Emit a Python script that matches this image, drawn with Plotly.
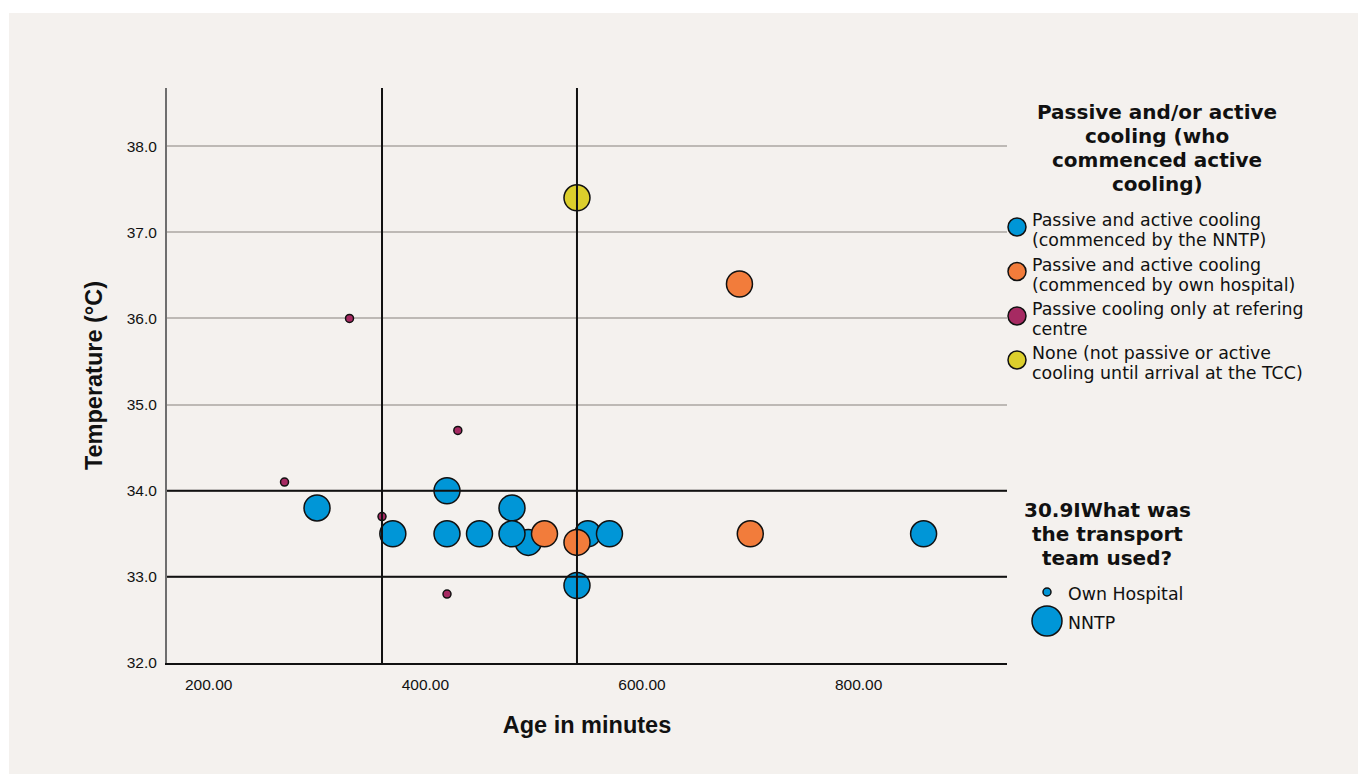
import plotly.graph_objects as go

# ---- data -------------------------------------------------------------
age_min = [300, 370, 420, 420, 450, 495, 480, 480, 540, 550, 570, 860,
           510, 540, 690, 700,
           270, 330, 360, 430, 420,
           540]
temp_c = [33.8, 33.5, 34.0, 33.5, 33.5, 33.4, 33.8, 33.5, 32.9, 33.5, 33.5, 33.5,
          33.5, 33.4, 36.4, 33.5,
          34.1, 36.0, 33.7, 34.7, 32.8,
          37.4]
cooling = ["nntp"] * 12 + ["own"] * 4 + ["passive"] * 5 + ["none"]
team = (["NNTP"] * 12 + ["NNTP"] * 4 + ["Own Hospital"] * 5 + ["NNTP"])

cooling_keys = ["nntp", "own", "passive", "none"]
cooling_labels = [
    ["Passive and active cooling", "(commenced by the NNTP)"],
    ["Passive and active cooling", "(commenced by own hospital)"],
    ["Passive cooling only at refering", "centre"],
    ["None (not passive or active", "cooling until arrival at the TCC)"],
]
cooling_colors = ["#0096D7", "#F27C3B", "#A62A62", "#DCCF2C"]

team_labels = ["Own Hospital", "NNTP"]
team_sizes = {"Own Hospital": 8, "NNTP": 26}

ref_ages = [360, 540]
ref_temps = [33.0, 34.0]

x_ticks = [200, 400, 600, 800]
y_ticks = [32, 33, 34, 35, 36, 37, 38]

legend_title_1 = ["Passive and/or active", "cooling (who", "commenced active", "cooling)"]
legend_title_2 = ["30.9IWhat was", "the transport", "team used?"]

# ---- layout geometry (pixels) ----------------------------------------
W, H = 1358, 774
L, R, T, B = 167, 1358 - 1007, 88, 774 - 663
PW, PH = W - L - R, H - T - B
BG = "#F4F1EE"
FONT = "Liberation Sans, Arial, Helvetica, sans-serif"
LEG_FONT = "DejaVu Sans, Verdana, sans-serif"


def px(x):
    return (x - L) / PW


def py(y):
    return (H - B - y) / PH


fig = go.Figure()

for key, color in zip(cooling_keys, cooling_colors):
    idx = [i for i, c in enumerate(cooling) if c == key]
    fig.add_trace(go.Scatter(
        x=[age_min[i] for i in idx],
        y=[temp_c[i] for i in idx],
        mode="markers",
        marker=dict(color=color, opacity=1,
                    size=[team_sizes[team[i]] for i in idx],
                    line=dict(color="#111111", width=1.5)),
        showlegend=False,
        hoverinfo="x+y",
    ))

shapes = []
# panel background
shapes.append(dict(type="rect", xref="paper", yref="paper",
                   x0=px(9), x1=px(W + 5), y0=py(H + 5), y1=py(13),
                   fillcolor=BG, line=dict(width=0), layer="below"))
# reference lines
for a in ref_ages:
    shapes.append(dict(type="line", xref="x", yref="paper", x0=a, x1=a, y0=0, y1=1,
                       line=dict(color="#111111", width=2)))
for t in ref_temps:
    shapes.append(dict(type="line", xref="paper", yref="y", x0=0, x1=1, y0=t, y1=t,
                       line=dict(color="#111111", width=2)))

annotations = []
# legend 1 title
for k, line in enumerate(legend_title_1):
    annotations.append(dict(text=f"<b>{line}</b>", xref="paper", yref="paper",
                            x=px(1157), y=py(112 + 24 * k), xanchor="center", yanchor="middle",
                            showarrow=False, font=dict(size=20, color="#111111", family=LEG_FONT)))
# legend 1 items
item_y = [227, 271.5, 316, 360]
for k, (lines, color) in enumerate(zip(cooling_labels, cooling_colors)):
    cy = item_y[k]
    r = 9
    shapes.append(dict(type="circle", xref="paper", yref="paper",
                       x0=px(1017 - r), x1=px(1017 + r), y0=py(cy + r), y1=py(cy - r),
                       fillcolor=color, line=dict(color="#111111", width=1.5)))
    for j, line in enumerate(lines):
        annotations.append(dict(text=line, xref="paper", yref="paper",
                                x=px(1030), y=py(cy - 7 + 20 * j), xanchor="left", yanchor="middle",
                                showarrow=False, font=dict(size=17.4, color="#111111", family=LEG_FONT)))
# legend 2 title
for k, line in enumerate(legend_title_2):
    annotations.append(dict(text=f"<b>{line}</b>", xref="paper", yref="paper",
                            x=px(1107), y=py(510 + 24 * k), xanchor="center", yanchor="middle",
                            showarrow=False, font=dict(size=20, color="#111111", family=LEG_FONT)))
# legend 2 items
team_y = [592, 621]
team_r = [4, 15]
for lab, cy, r in zip(team_labels, team_y, team_r):
    shapes.append(dict(type="circle", xref="paper", yref="paper",
                       x0=px(1047 - r), x1=px(1047 + r), y0=py(cy + r), y1=py(cy - r),
                       fillcolor=cooling_colors[0], line=dict(color="#111111", width=1.5)))
    annotations.append(dict(text=lab, xref="paper", yref="paper",
                            x=px(1066), y=py(cy + 1.5), xanchor="left", yanchor="middle",
                            showarrow=False, font=dict(size=17.4, color="#111111", family=LEG_FONT)))

fig.update_layout(
    width=W, height=H,
    margin=dict(l=L, r=R, t=T, b=B, pad=0),
    paper_bgcolor="white",
    plot_bgcolor=BG,
    font=dict(family=FONT, color="#111111"),
    shapes=shapes,
    annotations=annotations,
    showlegend=False,
    xaxis=dict(
        range=[161.5, 937], tickvals=x_ticks, tickformat=".2f",
        showgrid=False, zeroline=False,
        showline=True, linecolor="#111111", linewidth=1.5,
        ticks="outside", ticklen=7, tickcolor="rgba(0,0,0,0)",
        tickfont=dict(size=15.5, color="#111111"),
        title=dict(text="<b>Age in minutes</b>", font=dict(size=23.5, color="#111111"), standoff=24),
    ),
    yaxis=dict(
        range=[32.0, 38.675], tickvals=y_ticks, tickformat=".1f",
        showgrid=True, gridcolor="#BDB9B5", gridwidth=1.5, zeroline=False,
        showline=True, linecolor="#6E6E6E", linewidth=2,
        ticks="outside", ticklen=5, tickcolor="rgba(0,0,0,0)",
        tickfont=dict(size=15.5, color="#111111"),
        title=dict(text="<b>Temperature (°C)</b>", font=dict(size=23.5, color="#111111"), standoff=18),
    ),
)

fig.write_html("out.html")
